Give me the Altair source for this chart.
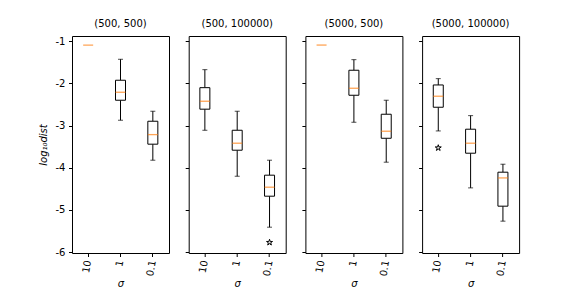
import altair as alt
import pandas as pd

panels = ["(500, 500)", "(500, 100000)", "(5000, 500)", "(5000, 100000)"]
sigmas = ["10", "1", "0.1"]

# box statistics per panel (rows) and sigma (columns), log10 scale
whisker_low = [[-1.09, -2.872, -3.82], [-3.11, -4.20, -5.408], [-1.09, -2.92, -3.867], [-3.126, -4.476, -5.265]]
q1 = [[-1.09, -2.398, -3.44], [-2.61, -3.583, -4.673], [-1.09, -2.28, -3.30], [-2.564, -3.654, -4.91]]
median = [[-1.09, -2.209, -3.213], [-2.422, -3.417, -4.46], [-1.09, -2.114, -3.133], [-2.303, -3.417, -4.24]]
q3 = [[-1.09, -1.924, -2.896], [-2.10, -3.11, -4.175], [-1.09, -1.687, -2.73], [-2.036, -3.085, -4.104]]
whisker_high = [[-1.09, -1.427, -2.659], [-1.673, -2.659, -3.82], [-1.09, -1.436, -2.398], [-1.886, -2.763, -3.915]]

outlier_panel = ["(500, 100000)", "(5000, 100000)"]
outlier_sigma = ["0.1", "10"]
outlier_value = [-5.77, -3.528]

y_ticks = [-1, -2, -3, -4, -5, -6]

rows = []
for i, p in enumerate(panels):
    for j, s in enumerate(sigmas):
        rows.append({"panel": p, "sigma": s, "lo": whisker_low[i][j], "q1": q1[i][j],
                     "med": median[i][j], "q3": q3[i][j], "hi": whisker_high[i][j]})
df = pd.DataFrame(rows)
out_df = pd.DataFrame({"panel": outlier_panel, "sigma": outlier_sigma, "v": outlier_value})

FONT = "DejaVu Sans"
STAR = ("M0,-1L0.225,-0.309L0.951,-0.309L0.363,0.118L0.588,0.809L0,0.382"
        "L-0.588,0.809L-0.363,0.118L-0.951,-0.309L-0.225,-0.309Z")

yscale = alt.Scale(domain=[-6.02, -0.875], nice=False, zero=False)
xscale = alt.Scale(paddingInner=0, paddingOuter=0)


def make_panel(i, p):
    xenc = alt.X("sigma:N", sort=sigmas, scale=xscale,
                 axis=alt.Axis(title="σ", labelAngle=280, titleFontStyle="italic",
                               titleFontWeight="normal", titleFontSize=10, titlePadding=2))
    if i == 0:
        yax = alt.Axis(values=y_ticks, title="log₁₀dist",
                       labelExpr="'-' + toString(abs(datum.value))",
                       titleFontStyle="italic", titleFontWeight="normal", titleFontSize=10,
                       titlePadding=7)
    else:
        yax = alt.Axis(values=y_ticks, labels=False, title=None)

    def Y(f):
        return alt.Y(f + ":Q", scale=yscale, axis=yax)

    base = alt.Chart(df).transform_filter(alt.datum.panel == p)
    spread = base.transform_filter(alt.datum.hi > alt.datum.lo)
    w_low = spread.mark_rule(color="black", strokeWidth=1).encode(x=xenc, y=Y("lo"), y2="q1:Q")
    w_high = spread.mark_rule(color="black", strokeWidth=1).encode(x=xenc, y=Y("q3"), y2="hi:Q")
    cap_low = spread.mark_tick(color="black", size=5, thickness=1).encode(x=xenc, y=Y("lo"))
    cap_high = spread.mark_tick(color="black", size=5, thickness=1).encode(x=xenc, y=Y("hi"))
    box = spread.mark_bar(size=10, fill="white", stroke="black", strokeWidth=1).encode(
        x=xenc, y=Y("q1"), y2="q3:Q")
    med = base.mark_tick(color="#ff7f0e", size=10, thickness=1.3).encode(x=xenc, y=Y("med"))
    layers = [w_low, w_high, cap_low, cap_high, box, med]
    if p in outlier_panel:
        pts = alt.Chart(out_df).transform_filter(alt.datum.panel == p).mark_point(
            shape=STAR, size=40, filled=True, fill="#dddddd", stroke="black", strokeWidth=1,
            opacity=1).encode(x=xenc, y=alt.Y("v:Q", scale=yscale, axis=yax))
        layers.append(pts)
    return alt.layer(*layers).properties(width=97, height=217, title=p)


chart = alt.hconcat(*[make_panel(i, p) for i, p in enumerate(panels)],
                    spacing=19.7, bounds="flush").configure_view(
    stroke="black", strokeWidth=1, fill="white"
).configure_axis(
    domain=False, grid=False, tickColor="black", tickSize=3.5, labelPadding=3.5,
    labelFont=FONT, labelFontSize=10, labelColor="black", titleFont=FONT, titleColor="black"
).configure_title(
    font=FONT, fontSize=10, fontWeight="normal", color="black", offset=7
).properties(
    padding={"left": 29, "top": 10, "right": 5, "bottom": 0}
)

chart.save("out.html", embed_options={"renderer": "svg", "actions": False})
